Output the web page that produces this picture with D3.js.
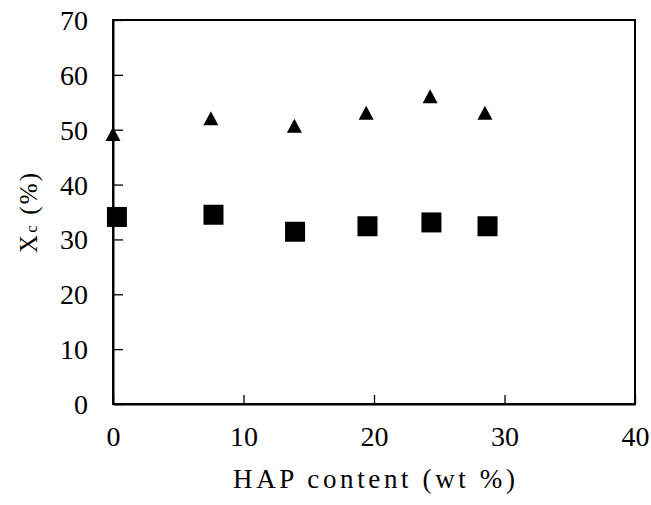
<!DOCTYPE html>
<html><head><meta charset="utf-8">
<script src="https://cdn.jsdelivr.net/npm/d3@7"></script>
<style>body{margin:0;background:#fff}svg{display:block}</style>
</head><body>
<script>
// Data
const hapTri = [0, 7.5, 13.9, 19.4, 24.3, 28.5];
const xcTri = [49.2, 52.1, 50.7, 53.1, 56.1, 53.1];
const hapSq = [0.3, 7.7, 13.95, 19.5, 24.4, 28.7];
const xcSq = [34.1, 34.5, 31.4, 32.4, 33.1, 32.4];
const xTicks = [0, 10, 20, 30, 40];
const yTicks = [0, 10, 20, 30, 40, 50, 60, 70];
const xTitle = "HAP content (wt %)";

const W = 651, H = 505;
const m = {left: 113, right: 635, top: 20, bottom: 404};
const svg = d3.select("body").append("svg").attr("width", W).attr("height", H);
const x = d3.scaleLinear().domain([0, 40]).range([m.left, m.right]);
const y = d3.scaleLinear().domain([0, 70]).range([m.bottom, m.top]);
const serif = "'Liberation Serif','Times New Roman',serif";

// frame
svg.append("rect").attr("x", m.left).attr("y", m.top)
  .attr("width", m.right - m.left).attr("height", m.bottom - m.top)
  .attr("fill", "none").attr("stroke", "#000").attr("stroke-width", 2);

// axes with inward ticks
const xa = svg.append("g").attr("transform", `translate(0,${m.bottom})`)
  .call(d3.axisBottom(x).tickValues(xTicks).tickSizeInner(-9).tickSizeOuter(0).tickPadding(22));
const ya = svg.append("g").attr("transform", `translate(${m.left},0)`)
  .call(d3.axisLeft(y).tickValues(yTicks).tickSizeInner(-10).tickSizeOuter(0).tickPadding(25));
[xa, ya].forEach(g => {
  g.select(".domain").attr("stroke", "#000").attr("stroke-width", 2);
  g.selectAll(".tick line").attr("stroke", "#000").attr("stroke-width", 1.3);
  g.selectAll(".tick text").attr("font-family", serif).attr("font-size", 28).attr("fill", "#000");
});
xa.selectAll(".tick text").attr("dy", "0.71em");
ya.selectAll(".tick text").attr("dy", "0.34em");

// axis titles
svg.append("text").attr("x", 233).attr("y", 488)
  .attr("font-family", serif).attr("font-size", 27)
  .attr("textLength", 282).attr("lengthAdjust", "spacing")
  .text(xTitle);
const yl = svg.append("text").attr("transform", "translate(37,253) rotate(-90)")
  .attr("font-family", serif).attr("font-size", 25)
  .attr("textLength", 80).attr("lengthAdjust", "spacing");
yl.append("tspan").text("X");
yl.append("tspan").attr("font-size", 17).text("c");
yl.append("tspan").text(" (%)");

// triangles
const triW = 15, triH = 14;
svg.append("g").selectAll("path").data(hapTri).join("path")
  .attr("d", (d, i) => {
    const cx = x(d), cy = y(xcTri[i]);
    return `M${cx},${cy - triH / 2}L${cx + triW / 2},${cy + triH / 2}L${cx - triW / 2},${cy + triH / 2}Z`;
  })
  .attr("fill", "#000");

// squares
const sq = 20;
svg.append("g").selectAll("rect").data(hapSq).join("rect")
  .attr("x", d => x(d) - sq / 2)
  .attr("y", (d, i) => y(xcSq[i]) - sq / 2)
  .attr("width", sq).attr("height", sq).attr("fill", "#000");
</script>
</body></html>
